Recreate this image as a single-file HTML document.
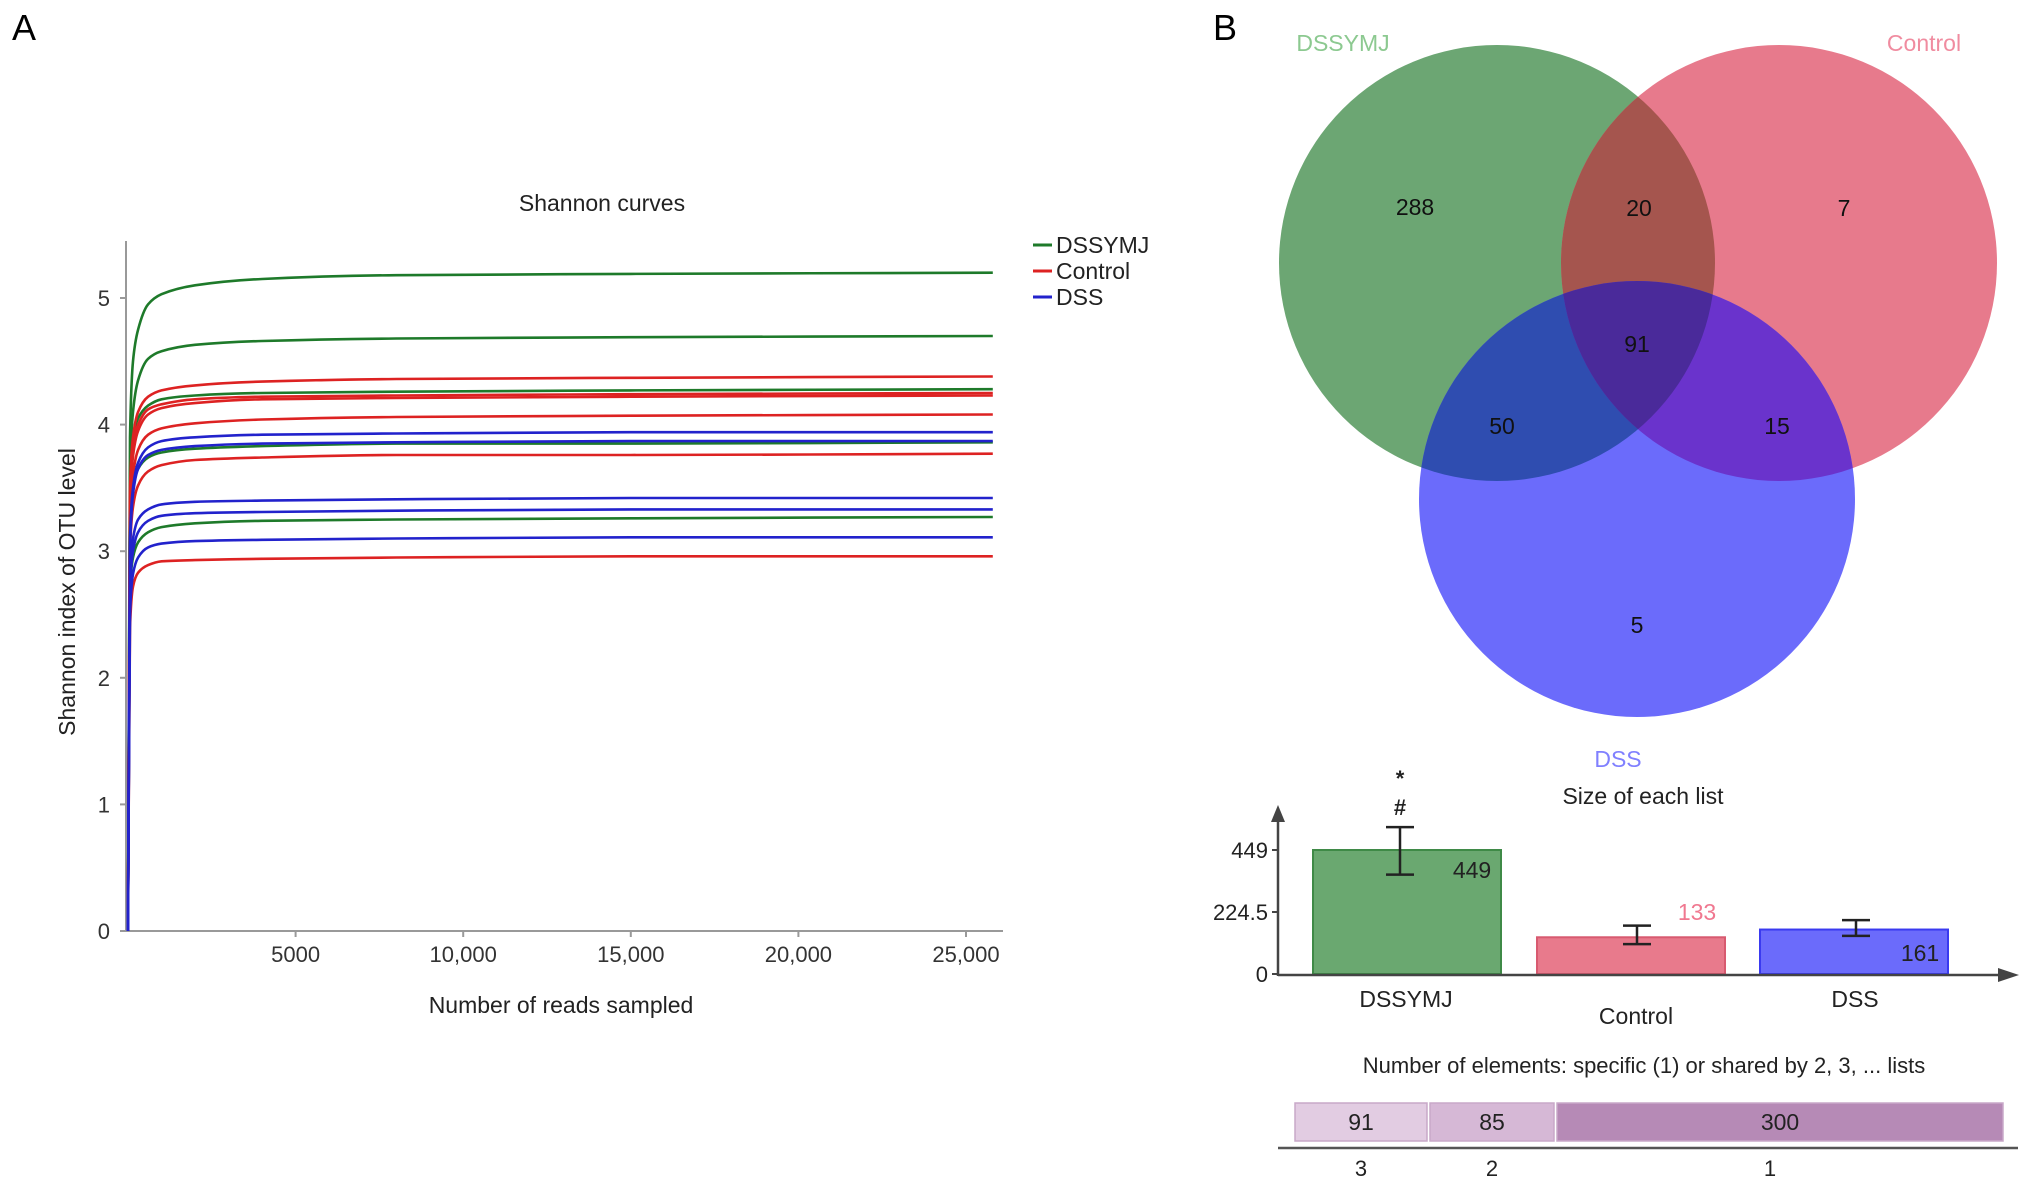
<!DOCTYPE html>
<html><head><meta charset="utf-8"><style>
html,body{margin:0;padding:0;background:#fff}
svg{display:block;font-family:"Liberation Sans",Arial,sans-serif}
</style></head><body>
<svg id="fig" width="2031" height="1188" viewBox="0 0 2031 1188" xmlns="http://www.w3.org/2000/svg">
<text x="12" y="40" font-size="36">A</text>
<text x="1213" y="40" font-size="36">B</text>
<g id="left"></g>
<g transform="translate(-7,0)">
<g id="venn"></g>
<g id="bars"></g>
<g id="shared"></g>
</g>
</svg>
<script>
const NS='http://www.w3.org/2000/svg';
function mk(p,tag,attrs,txt){const e=document.createElementNS(NS,tag);for(const k in attrs)e.setAttribute(k,attrs[k]);if(txt!==undefined)e.textContent=txt;p.appendChild(e);return e;}

// ---------- Shannon curves data ----------
const sampleReads=[0,60,150,300,600,1000,2000,4000,8000,15000,25800];
const curveGroups=['DSSYMJ','DSSYMJ','DSSYMJ','DSSYMJ','DSSYMJ','Control','Control','Control','Control','Control','Control','DSS','DSS','DSS','DSS','DSS'];
const dssymj1=[0,3.9,4.5,4.75,4.95,5.03,5.1,5.15,5.18,5.19,5.2];
const dssymj2=[0,3.6,4.1,4.35,4.52,4.58,4.63,4.66,4.68,4.69,4.7];
const dssymj3=[0,3.5,3.9,4.05,4.15,4.2,4.23,4.25,4.26,4.27,4.28];
const dssymj4=[0,3.2,3.5,3.65,3.74,3.78,3.81,3.83,3.85,3.85,3.86];
const dssymj5=[0,2.7,2.95,3.07,3.15,3.19,3.22,3.24,3.25,3.26,3.27];
const control1=[0,3.5,3.9,4.1,4.22,4.27,4.31,4.34,4.36,4.37,4.38];
const control2=[0,3.4,3.85,4.0,4.12,4.16,4.2,4.22,4.23,4.24,4.25];
const control3=[0,3.3,3.75,3.95,4.08,4.13,4.17,4.2,4.21,4.22,4.23];
const control4=[0,3.2,3.6,3.8,3.92,3.97,4.01,4.04,4.06,4.07,4.08];
const control5=[0,3.0,3.35,3.52,3.63,3.68,3.72,3.74,3.76,3.76,3.77];
const control6=[0,2.4,2.72,2.83,2.89,2.92,2.93,2.94,2.95,2.96,2.96];
const dss1=[0,3.1,3.5,3.7,3.82,3.87,3.9,3.92,3.93,3.94,3.94];
const dss2=[0,3.0,3.45,3.65,3.76,3.8,3.83,3.85,3.86,3.87,3.87];
const dss3=[0,2.8,3.1,3.25,3.33,3.37,3.39,3.4,3.41,3.42,3.42];
const dss4=[0,2.7,3.0,3.15,3.24,3.28,3.3,3.31,3.32,3.33,3.33];
const dss5=[0,2.5,2.82,2.95,3.03,3.06,3.08,3.09,3.1,3.11,3.11];
const curves=[dssymj1,dssymj2,dssymj3,dssymj4,dssymj5,control1,control2,control3,control4,control5,control6,dss1,dss2,dss3,dss4,dss5];
const yTicks=[0,1,2,3,4,5];
const xTicks=[5000,10000,15000,20000,25000];
const xTickLabels=['5000','10,000','15,000','20,000','25,000'];

// ---------- Venn / bar data ----------
const vennSets=['DSSYMJ','Control','DSS'];
const vennCounts=[288,7,5,20,50,15,91]; // G, R, B, GR, GB, RB, GRB
const listSizes=[449,133,161];
const listErrLow=[360,108,138];
const listErrHigh=[532,175,195];
const yBarTicks=[0,224.5,449];
const sharedLabels=['3','2','1'];
const sharedCounts=[91,85,300];

function monoPath(P){
 const n=P.length;if(n<2)return '';
 const dx=[],m=[],t=[];
 for(let i=0;i<n-1;i++){dx[i]=P[i+1][0]-P[i][0];m[i]=(P[i+1][1]-P[i][1])/dx[i];}
 t[0]=m[0];t[n-1]=m[n-2];
 for(let i=1;i<n-1;i++){ if(m[i-1]*m[i]<=0)t[i]=0; else {const w1=2*dx[i]+dx[i-1],w2=dx[i]+2*dx[i-1];t[i]=(w1+w2)/(w1/m[i-1]+w2/m[i]);} }
 let d='M'+P[0][0].toFixed(1)+','+P[0][1].toFixed(1);
 for(let i=0;i<n-1;i++){const h=dx[i]/3;
  d+='C'+(P[i][0]+h).toFixed(1)+','+(P[i][1]+t[i]*h).toFixed(1)+' '+(P[i+1][0]-h).toFixed(1)+','+(P[i+1][1]-t[i+1]*h).toFixed(1)+' '+P[i+1][0].toFixed(1)+','+P[i+1][1].toFixed(1);}
 return d;
}

// ---------- Left chart ----------
(function(){
 const g=document.getElementById('left');
 const X0=128,XS=167.6/5000,Y0=931,YS=126.6;
 const xs=v=>X0+v*XS, ys=v=>Y0-v*YS;
 mk(g,'text',{x:602,y:211,'font-size':23,'text-anchor':'middle',fill:'#222',},'Shannon curves');
 const ya=mk(g,'line',{x1:126,y1:241,x2:126,y2:931,stroke:'#999','stroke-width':2});
 
 const xa=mk(g,'line',{x1:126,y1:931,x2:1003,y2:931,stroke:'#999','stroke-width':2});
 
 yTicks.forEach(t=>{
  const l=mk(g,'line',{x1:120,x2:126,y1:ys(t),y2:ys(t),stroke:'#999','stroke-width':2});
  
  const tx=mk(g,'text',{x:110,y:ys(t)+8,'font-size':22,'text-anchor':'end',fill:'#333'},String(t));
  
 });
 xTicks.forEach((t,i)=>{
  const l=mk(g,'line',{x1:xs(t),x2:xs(t),y1:931,y2:937,stroke:'#999','stroke-width':2});
  
  const tx=mk(g,'text',{x:xs(t),y:962,'font-size':22,'text-anchor':'middle',fill:'#333'},xTickLabels[i]);
  
 });
 mk(g,'text',{x:561,y:1013,'font-size':23,'text-anchor':'middle',fill:'#222',},'Number of reads sampled');
 mk(g,'text',{x:0,y:0,'font-size':23,'text-anchor':'middle',fill:'#222',transform:'translate(75,592) rotate(-90)',},'Shannon index of OTU level');
 const colors={DSSYMJ:'#1e7a2a',Control:'#dd2222',DSS:'#2222cc'};
 curves.forEach((c,i)=>{
  const P=c.map((v,j)=>[xs(sampleReads[j]),ys(v)]);
  const p=mk(g,'path',{d:monoPath(P),fill:'none',stroke:colors[curveGroups[i]],'stroke-width':2.6,'stroke-linejoin':'round'});
  
  
 });
 ['DSSYMJ','Control','DSS'].forEach((n,i)=>{
  const y=245+i*26;
  const l=mk(g,'line',{x1:1033,x2:1052,y1:y,y2:y,stroke:colors[n],'stroke-width':3});
  
  const t=mk(g,'text',{x:1056,y:y+8,'font-size':23,fill:'#222'},n);
  
 });
})();

// ---------- Venn ----------
(function(){
 const g=document.getElementById('venn');
 const R=218, C=[[1504,263],[1786,263],[1644,499]];
 const defs=mk(g,'defs',{});
 C.forEach((c,i)=>{const cp=mk(defs,'clipPath',{id:'cp'+i});mk(cp,'circle',{cx:c[0],cy:c[1],r:R});});
 const cp01=mk(defs,'clipPath',{id:'cp01'});mk(cp01,'circle',{cx:C[1][0],cy:C[1][1],r:R,'clip-path':'url(#cp0)'});
 const base=['#6ca673','#e77a8c','#6b6bfb'];
 base.forEach((col,i)=>{const c=mk(g,'circle',{cx:C[i][0],cy:C[i][1],r:R,fill:col});});
 mk(g,'circle',{cx:C[1][0],cy:C[1][1],r:R,fill:'#a5554e','clip-path':'url(#cp0)',});
 mk(g,'circle',{cx:C[2][0],cy:C[2][1],r:R,fill:'#2f4db0','clip-path':'url(#cp0)',});
 mk(g,'circle',{cx:C[2][0],cy:C[2][1],r:R,fill:'#6a33cc','clip-path':'url(#cp1)',});
 const tg=mk(g,'g',{'clip-path':'url(#cp01)'});
 mk(tg,'circle',{cx:C[2][0],cy:C[2][1],r:R,fill:'#4a2a9a','clip-path':'url(#cp2)',});
 const pos=[[1422,207],[1851,208],[1644,625],[1646,208],[1509,426],[1784,426],[1644,344]];
 vennCounts.forEach((v,i)=>{const t=mk(g,'text',{x:pos[i][0],y:pos[i][1]+8,'font-size':23,'text-anchor':'middle',fill:'#111'},String(v));});
 mk(g,'text',{x:1350,y:51,'font-size':23,'text-anchor':'middle',fill:'#8cc990',},'DSSYMJ');
 mk(g,'text',{x:1931,y:51,'font-size':23,'text-anchor':'middle',fill:'#f08ca0',},'Control');
 mk(g,'text',{x:1625,y:767,'font-size':23,'text-anchor':'middle',fill:'#8080ff',},'DSS');
})();

// ---------- Bar chart ----------
(function(){
 const g=document.getElementById('bars');
 const Y0=974, YS=(974-850)/449;
 const ys=v=>Y0-v*YS;
 const bx=[1320,1544,1767], bw=188;
 const fills=['#6aa870','#e87a8c','#6b6bfb'], strokes=['#3f8a47','#d85a70','#3a3af0'];
 mk(g,'text',{x:1650,y:804,'font-size':23,'text-anchor':'middle',fill:'#222',},'Size of each list');
 mk(g,'line',{x1:1285,y1:976,x2:1285,y2:815,stroke:'#444','stroke-width':2.5,});
 mk(g,'path',{d:'M1278,822 L1285,805 L1292,822 Z',fill:'#444',});
 listSizes.forEach((v,i)=>{
  const r=mk(g,'rect',{x:bx[i],y:ys(v),width:bw,height:Y0-ys(v),fill:fills[i],stroke:strokes[i],'stroke-width':2});
  
  const cx=bx[i]+bw/2-(i===0?7:(i===1?-6:-2));
  const e=mk(g,'path',{d:`M${cx-14},${ys(listErrHigh[i])}H${cx+14}M${cx},${ys(listErrHigh[i])}V${ys(listErrLow[i])}M${cx-14},${ys(listErrLow[i])}H${cx+14}`,stroke:'#222','stroke-width':2.5,fill:'none'});
  
 });
 mk(g,'line',{x1:1285,y1:975,x2:2012,y2:975,stroke:'#444','stroke-width':2.5,});
 mk(g,'path',{d:'M2005,968 L2026,975 L2005,982 Z',fill:'#444',});
 yBarTicks.forEach(t=>{
  const l=mk(g,'line',{x1:1279,x2:1285,y1:ys(t),y2:ys(t),stroke:'#444','stroke-width':2});
  
  const tx=mk(g,'text',{x:1275,y:ys(t)+8,'font-size':22,'text-anchor':'end',fill:'#222'},String(t));
  
 });
 const vl=[[1479,878,'#222'],[1704,920,'#f07890'],[1927,961,'#222']];
 listSizes.forEach((v,i)=>{const t=mk(g,'text',{x:vl[i][0],y:vl[i][1],'font-size':23,'text-anchor':'middle',fill:vl[i][2]},String(v));});
 const cl=[[1413,1007],[1643,1024],[1862,1007]];
 vennSets.forEach((n,i)=>{const t=mk(g,'text',{x:cl[i][0],y:cl[i][1],'font-size':23,'text-anchor':'middle',fill:'#222'},n);});
 mk(g,'text',{x:1407,y:786,'font-size':22,'font-weight':'bold','text-anchor':'middle',fill:'#222',},'*');
 mk(g,'text',{x:1407,y:815,'font-size':22,'font-weight':'bold','text-anchor':'middle',fill:'#222',},'#');
})();

// ---------- Shared elements bar ----------
(function(){
 const g=document.getElementById('shared');
 const x0=1302, x1=2010, gap=3;
 const w=(x1-x0-gap*2);
 mk(g,'text',{x:1651,y:1073,'font-size':22,'text-anchor':'middle',fill:'#222',},'Number of elements: specific (1) or shared by 2, 3, ... lists');
 const cols=['#e2cce2','#d6b8d6','#b68ab6'];
 let x=x0;
 const adj=[132/ w, 124/ w]; // reference displays small segments wider
 const fr=[adj[0],adj[1],1-adj[0]-adj[1]];
 sharedCounts.forEach((c,i)=>{
  const ww=fr[i]*w;
  const r=mk(g,'rect',{x:x,y:1103,width:ww,height:38,fill:cols[i],stroke:'#c8a8c8','stroke-width':1.5});
  
  const t=mk(g,'text',{x:x+ww/2,y:1130,'font-size':23,'text-anchor':'middle',fill:'#222'},String(c));
  
  const l=mk(g,'text',{x:x+ww/2-(i===2?10:0),y:1176,'font-size':22,'text-anchor':'middle',fill:'#222'},sharedLabels[i]);
  
  x+=ww+gap;
 });
 mk(g,'line',{x1:1285,y1:1148,x2:2025,y2:1148,stroke:'#555','stroke-width':2.5,});
})();
</script>
</body></html>
